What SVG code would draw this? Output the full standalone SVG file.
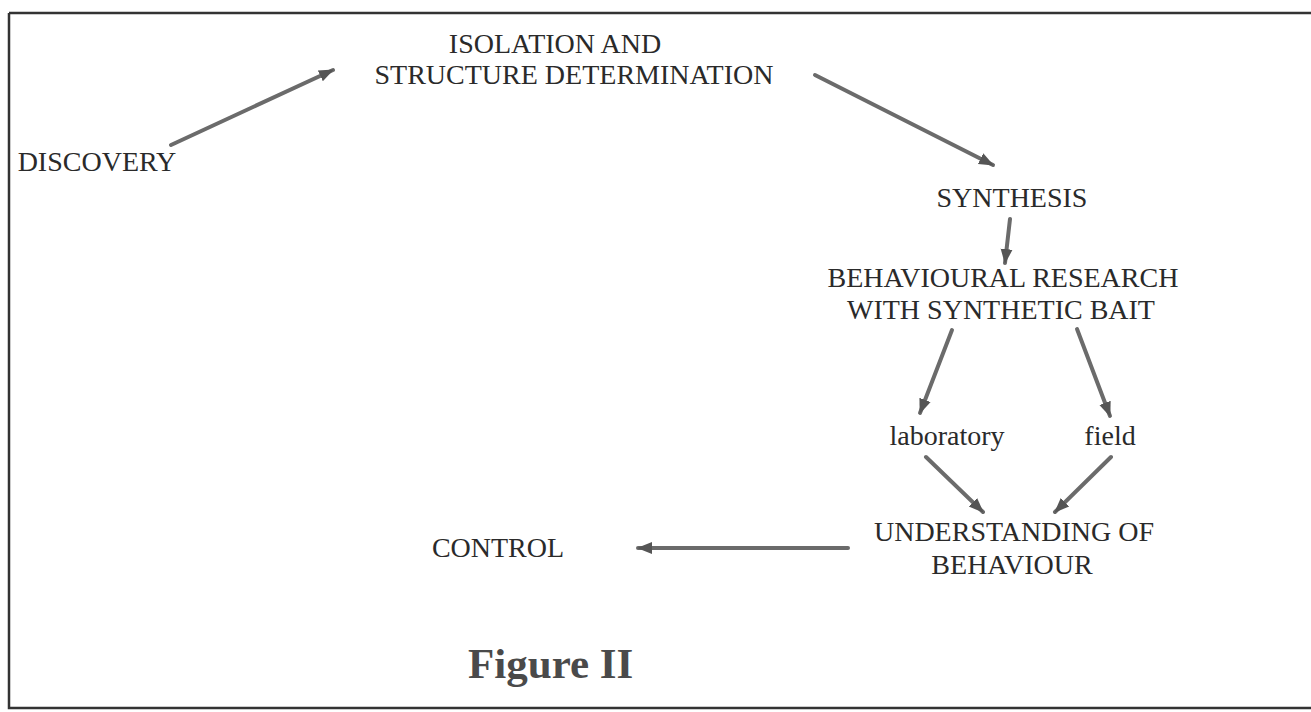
<svg xmlns="http://www.w3.org/2000/svg" width="1311" height="712" viewBox="0 0 1311 712">
<style>
.t{font-family:"Liberation Serif","Times New Roman",serif;font-size:28px;fill:#2a2a2a;text-anchor:middle}
.c{stroke:#6b6b6b;stroke-width:4;fill:none;stroke-linecap:round}
.fig{font-family:"Liberation Serif","Times New Roman",serif;font-size:43px;font-weight:bold;fill:#4a4a4a}
</style>
<defs>
<marker id="ah" markerUnits="userSpaceOnUse" markerWidth="16" markerHeight="14" refX="14" refY="7" orient="auto">
<path d="M0,1 L15,7 L0,13 Z" fill="#555"/>
</marker>
</defs>
<rect width="1311" height="712" fill="#fff"/>
<g id="border" stroke="#333" fill="none" stroke-width="2.5">
<path d="M9,13 H1311 M9,13 V708 H1311"/>
</g>
<g id="n-isolation"><text class="t" x="555" y="53">ISOLATION AND</text><text class="t" x="574" y="84">STRUCTURE DETERMINATION</text></g>
<g id="n-discovery"><text class="t" x="97" y="171">DISCOVERY</text></g>
<g id="n-synthesis"><text class="t" x="1012" y="207">SYNTHESIS</text></g>
<g id="n-behavioural"><text class="t" x="1003" y="287">BEHAVIOURAL RESEARCH</text><text class="t" x="1001" y="319">WITH SYNTHETIC BAIT</text></g>
<g id="n-laboratory"><text class="t" x="947" y="445">laboratory</text></g>
<g id="n-field"><text class="t" x="1110" y="445">field</text></g>
<g id="n-understanding"><text class="t" x="1014" y="541">UNDERSTANDING OF</text><text class="t" x="1012" y="574">BEHAVIOUR</text></g>
<g id="n-control"><text class="t" x="498" y="557">CONTROL</text></g>
<g id="caption"><text class="fig" x="468" y="678">Figure II</text></g>
<g id="connectors">
<line class="c" x1="171" y1="145" x2="333" y2="70" marker-end="url(#ah)"/>
<line class="c" x1="815" y1="75" x2="993" y2="165" marker-end="url(#ah)"/>
<line class="c" x1="1010" y1="219" x2="1005" y2="263" marker-end="url(#ah)"/>
<line class="c" x1="952" y1="330" x2="920" y2="413" marker-end="url(#ah)"/>
<line class="c" x1="1077" y1="329" x2="1110" y2="416" marker-end="url(#ah)"/>
<line class="c" x1="926" y1="457" x2="983" y2="512" marker-end="url(#ah)"/>
<line class="c" x1="1111" y1="457" x2="1055" y2="512" marker-end="url(#ah)"/>
<line class="c" x1="848" y1="548" x2="638" y2="548" marker-end="url(#ah)"/>
</g>
</svg>
